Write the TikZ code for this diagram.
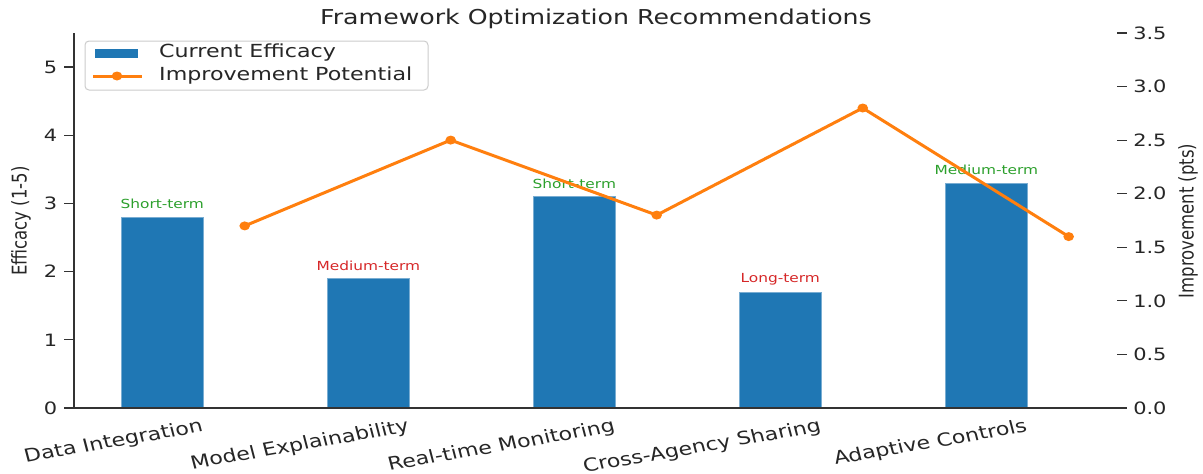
\documentclass[tikz,border=0pt]{standalone}
\usepackage{fontspec}
\setmainfont{DejaVu Sans}
\definecolor{barblue}{HTML}{1F77B4}
\definecolor{lineorange}{HTML}{FF7F0E}
\definecolor{tgreen}{HTML}{2CA02C}
\definecolor{tred}{HTML}{D62728}
\definecolor{ink}{HTML}{262626}
\definecolor{spinec}{HTML}{333333}
\definecolor{legedge}{HTML}{CCCCCC}
\newcommand\fsz[1]{\fontsize{#1}{#1}\selectfont}
\begin{document}
\begin{tikzpicture}[x=1pt,y=-1pt,
  txt/.style={inner sep=0pt, xscale=1.23, text=ink},
  ticklab/.style={txt, font=\fsz{17}},
  catlab/.style={txt, font=\fsz{18}, rotate=12, anchor=north east},
  axlab/.style={txt, font=\fsz{16.5}, rotate=90},
  annot/.style={txt, font=\fsz{12.5}},
  spine/.style={draw=spinec, line width=1.3pt},
  tickmark/.style={draw=spinec, line width=1.1pt},
  bar/.style={fill=barblue, draw=barblue!60!white, line width=0.5pt},
  trend/.style={draw=lineorange, line width=3pt, line join=round},
  dot/.style={fill=lineorange, draw=none}]
\useasboundingbox (0,0) rectangle (1203,474);
\fill[white] (0,0) rectangle (1203,474);

% title
\node[txt, font=\fsz{20.5}] (title) at (596,19) {Framework Optimization Recommendations};

% bars
\path[bar] (121.1,408) rectangle (203.5,217.0);
\path[bar] (327.1,408) rectangle (409.5,278.4);
\path[bar] (533.1,408) rectangle (615.5,196.6);
\path[bar] (739.1,408) rectangle (821.5,292.1);
\path[bar] (945.1,408) rectangle (1027.5,182.9);

% annotations
\node[annot, text=tgreen] (a1) at (162.3,204.0) {Short-term};
\node[annot, text=tred]   (a2) at (368.3,265.4) {Medium-term};
\node[annot, text=tgreen] (a3) at (574.3,183.6) {Short-term};
\node[annot, text=tred]   (a4) at (780.3,279.1) {Long-term};
\node[annot, text=tgreen] (a5) at (986.3,169.9) {Medium-term};

% improvement line
\coordinate (p1) at (244.7,225.9);
\coordinate (p2) at (450.7,140.1);
\coordinate (p3) at (656.7,215.1);
\coordinate (p4) at (862.7,108.0);
\coordinate (p5) at (1068.7,236.6);
\draw[trend] (p1) -- (p2) -- (p3) -- (p4) -- (p5);
\foreach \p in {p1,p2,p3,p4,p5} \fill[dot] (\p) ellipse [x radius=5.3pt, y radius=4.5pt];

% spines
\draw[spine] (74,33) -- (74,408) -- (1117,408);

% left ticks
\foreach \v/\yy in {0/408,1/339.8,2/271.6,3/203.4,4/135.2,5/67.0}{
  \draw[tickmark] (64,\yy) -- (74,\yy);
  \node[ticklab, anchor=east] (l\v) at (57.5,\yy) {\v};
}
% right ticks
\foreach \v/\yy in {0.0/408,0.5/354.4,1.0/300.9,1.5/247.3,2.0/193.7,2.5/140.2,3.0/86.6,3.5/33.0}{
  \draw[tickmark] (1117,\yy) -- (1127,\yy);
  \node[ticklab, anchor=west] (r\v) at (1133,\yy) {\v};
}

% category labels
\node[catlab] (c1) at (200.5,418) {Data Integration};
\node[catlab] (c2) at (406.5,418) {Model Explainability};
\node[catlab] (c3) at (612.5,418) {Real-time Monitoring};
\node[catlab] (c4) at (818.5,418) {Cross-Agency Sharing};
\node[catlab] (c5) at (1024.5,418) {Adaptive Controls};

% axis labels
\node[axlab] (ylab) at (21,221) {Efficacy (1-5)};
\node[axlab] (y2lab) at (1188,221) {Improvement (pts)};

% legend
\draw[legedge, fill=white, fill opacity=0.8, rounded corners=4pt, line width=1pt] (85,41) rectangle (428,90);
\fill[barblue] (95,49) rectangle (138,57.5);
\draw[trend] (93,76) -- (142,76);
\fill[dot] (117,76) ellipse [x radius=5.3pt, y radius=4.5pt];
\node[txt, font=\fsz{18}, anchor=west] (leg1) at (159,53) {Current Efficacy};
\node[txt, font=\fsz{18}, anchor=west] (leg2) at (159,75.5) {Improvement Potential};
\end{tikzpicture}
\end{document}
